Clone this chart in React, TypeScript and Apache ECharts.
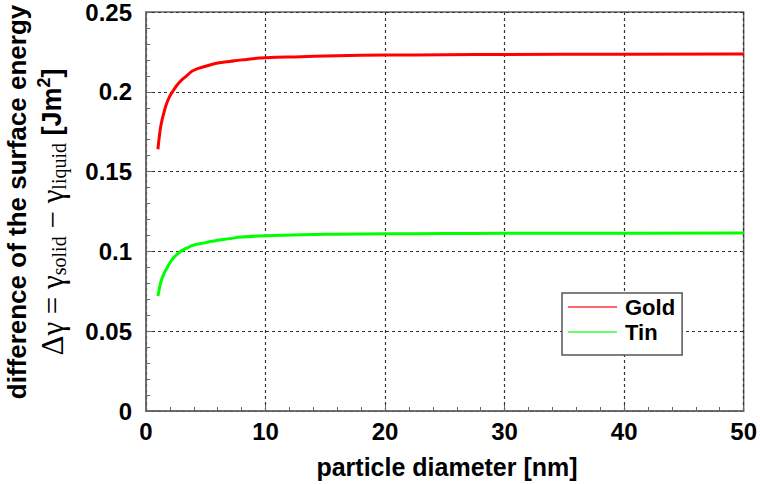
import React, { useEffect, useRef } from "react";
import * as echarts from "echarts";

const goldD = [1, 1.1, 1.25, 1.5, 1.85, 2.3, 2.8, 3.4, 4, 5, 6, 7, 8, 10, 13, 16, 20, 25, 30, 40, 50];
const goldV = [0.164, 0.171, 0.179, 0.187, 0.195, 0.201, 0.206, 0.21, 0.2135, 0.216, 0.218, 0.219, 0.22, 0.2213, 0.222, 0.2226, 0.223, 0.2232, 0.2234, 0.2236, 0.2237];
const tinD = [1, 1.1, 1.25, 1.5, 1.75, 2.2, 2.8, 3.4, 4, 5, 6, 7, 8, 10, 13, 16, 20, 25, 30, 40, 50];
const tinV = [0.072, 0.076, 0.081, 0.086, 0.0895, 0.095, 0.0995, 0.102, 0.104, 0.1055, 0.107, 0.108, 0.109, 0.1098, 0.1105, 0.1108, 0.111, 0.1112, 0.1113, 0.1114, 0.1115];
const seriesNames = ["Gold", "Tin"];
const xTitle = "particle diameter [nm]";
const yTitle1 = "difference of the surface energy";

const SANS = "'Liberation Sans', Arial, sans-serif";
const SERIF = "'Liberation Serif', 'Times New Roman', serif";

export default function App() {
  const ref = useRef<HTMLDivElement>(null);
  useEffect(() => {
    if (!ref.current) return;
    const chart = echarts.init(ref.current, undefined, { renderer: "svg" });
    const zip = (a: number[], b: number[]) => a.map((v, i) => [v, b[i]]);
    chart.setOption({
      animation: false,
      backgroundColor: "#fff",
      grid: { left: 146, top: 11, right: 14, bottom: 73, show: true, borderColor: "#666", borderWidth: 1.5, backgroundColor: "transparent" },
      xAxis: {
        type: "value", min: 0, max: 50, interval: 10,
        axisLine: { lineStyle: { color: "#666", width: 1.5 } },
        axisTick: { inside: true, length: 6, lineStyle: { color: "#666" } },
        minorTick: { show: true, splitNumber: 5, length: 4, lineStyle: { color: "#666" } },
        splitLine: { show: true, lineStyle: { color: "#333", width: 1.2, type: [3, 3] } },
        axisLabel: { fontFamily: SANS, fontWeight: "bold", fontSize: 24, color: "#000", margin: 8 },
      },
      yAxis: {
        type: "value", min: 0, max: 0.25, interval: 0.05,
        axisLine: { show: true, lineStyle: { color: "#666", width: 1.5 } },
        axisTick: { show: true, inside: true, length: 6, lineStyle: { color: "#666" } },
        minorTick: { show: true, splitNumber: 5, length: 4, lineStyle: { color: "#666" } },
        splitLine: { show: true, lineStyle: { color: "#333", width: 1.2, type: [3, 3] } },
        axisLabel: { fontFamily: SANS, fontWeight: "bold", fontSize: 24, color: "#000", margin: 14 },
      },
      legend: {
        orient: "vertical", left: 562, top: 293,
        backgroundColor: "#fff", borderColor: "#555", borderWidth: 1.5,
        padding: [3, 7, 12, 6], itemGap: 3, itemWidth: 49, itemHeight: 2,
        textStyle: { fontFamily: SANS, fontWeight: "bold", fontSize: 22, color: "#000", padding: [0, 0, 0, 3] },
        data: [
          { name: seriesNames[0], icon: "rect", itemStyle: { color: "#ff6666" } },
          { name: seriesNames[1], icon: "rect", itemStyle: { color: "#66ff66" } },
        ],
      },
      series: [
        { name: seriesNames[0], type: "line", data: zip(goldD, goldV), smooth: true, showSymbol: false, lineStyle: { color: "#ff0000", width: 3 }, itemStyle: { color: "#ff0000" } },
        { name: seriesNames[1], type: "line", data: zip(tinD, tinV), smooth: true, showSymbol: false, lineStyle: { color: "#00ff00", width: 3 }, itemStyle: { color: "#00ff00" } },
      ],
      graphic: [
        { type: "text", x: 447, y: 467, style: { text: xTitle, font: `bold 25px ${SANS}`, fill: "#000", align: "center", verticalAlign: "middle" } },
        { type: "text", x: 17, y: 202, rotation: Math.PI / 2, style: { text: yTitle1, font: `bold 26px ${SANS}`, fill: "#000", align: "center", verticalAlign: "middle" } },
        {
          type: "text", x: 52, y: 212, rotation: Math.PI / 2,
          style: {
            text: "{g|Δγ = γ}{s|solid}{g| − γ}{s|liquid}{b| [Jm}{p|2}{b|]}",
            align: "center", verticalAlign: "middle", fill: "#000",
            rich: {
              g: { fontFamily: SERIF, fontSize: 31, lineHeight: 34, fill: "#000", verticalAlign: "middle" },
              s: { fontFamily: SERIF, fontSize: 20, lineHeight: 20, fill: "#000", verticalAlign: "bottom" },
              b: { fontFamily: SANS, fontWeight: "bold", fontSize: 27, lineHeight: 34, fill: "#000", verticalAlign: "middle" },
              p: { fontFamily: SANS, fontWeight: "bold", fontSize: 18, lineHeight: 18, fill: "#000", verticalAlign: "top" },
            },
          },
        },
      ],
    });
    return () => chart.dispose();
  }, []);
  return <div ref={ref} style={{ width: 760, height: 484, position: "absolute", left: 0, top: 0 }} />;
}
